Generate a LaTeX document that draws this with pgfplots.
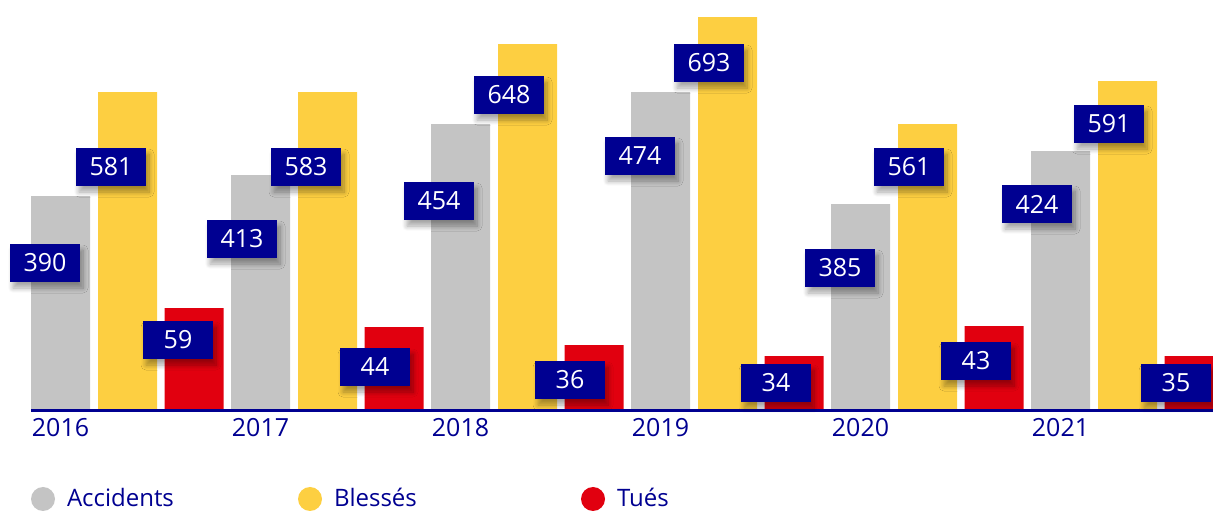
\documentclass[border=0pt]{standalone}
\usepackage{pgfplots}
\pgfplotsset{compat=1.18}
\usepackage{pgfplotstable}
\usepackage{fontspec}
\setmainfont{Open Sans}
\usetikzlibrary{shadows.blur}
\definecolor{fblue}{HTML}{000091}
\definecolor{fgrey}{HTML}{C4C4C4}
\definecolor{fyellow}{HTML}{FDCF41}
\definecolor{fred}{HTML}{E1000F}
\newcommand\lblfont{\fontsize{12.5pt}{15pt}\selectfont}
\tikzset{label box/.style={fill=fblue, text=white, font=\lblfont, minimum width=35pt,
    minimum height=19pt, inner sep=0pt,
    blur shadow={shadow xshift=1.5pt, shadow yshift=-3pt, shadow blur radius=2.5pt,
      shadow blur steps=8, shadow opacity=35}}}

% pos = bar centre (px), height = drawn bar height (px), lx/ly = label box centre
\pgfplotstableread{
pos year value height lx ly
60.5 2016 390 213 45 146
260.5 2017 413 234 242 170
460.5 2018 454 285 439 208
660.5 2019 474 317 640 253
860.5 2020 385 205 840 141
1060.5 2021 424 258 1037 205
}\accidents
\pgfplotstableread{
pos year value height lx ly
127.5 2016 581 317 111 242
327.5 2017 583 317 306 242
527.5 2018 648 365 509 314
727.5 2019 693 392 709 346
927.5 2020 561 285 909 242
1127.5 2021 591 328 1109 285
}\blesses
\pgfplotstableread{
pos year value height lx ly
194 2016 59 101 178 69
394 2017 44 82 375 42
594 2018 36 64 570 29
794 2019 34 53 776 26
994 2020 43 83 976 48
1194 2021 35 53 1176 26
}\tues

\begin{document}
\begin{tikzpicture}
\begin{axis}[
  x=0.5pt, y=0.5pt,
  xmin=0, xmax=1213, ymin=0, ymax=409,
  clip=false,
  axis x line*=bottom, axis y line=none,
  axis line style={draw=none},
  major tick length=0pt,
  xtick={60.5,260.5,460.5,660.5,860.5,1060.5},
  xticklabels={2016,2017,2018,2019,2020,2021},
  xticklabel style={text=fblue, font=\lblfont, anchor=base, yshift=-13.5pt},
  ytick=\empty,
  legend columns=3,
  legend style={at={(0.025557,-0.2200)}, anchor=west, draw=none, fill=none,
    inner sep=0pt, outer sep=0pt, font=\fontsize{12pt}{14pt}\selectfont, text=fblue,
    nodes={inner xsep=0pt},
    /tikz/every odd column/.append style={column sep=6pt}},
]
\addplot[ybar, bar width=29.5pt, bar shift=0pt, fill=fgrey, draw=none,
  legend image code/.code={\fill (6pt,0pt) circle (6pt);}]
  table[x=pos, y=height] {\accidents};
\addlegendentry{\makebox[115.5pt][l]{Accidents}}
\addplot[ybar, bar width=29.5pt, bar shift=0pt, fill=fyellow, draw=none,
  legend image code/.code={\fill (6pt,0pt) circle (6pt);}]
  table[x=pos, y=height] {\blesses};
\addlegendentry{\makebox[123.5pt][l]{Blessés}}
\addplot[ybar, bar width=29.5pt, bar shift=0pt, fill=fred, draw=none,
  legend image code/.code={\fill (6pt,0pt) circle (6pt);}]
  table[x=pos, y=height] {\tues};
\addlegendentry{Tués}

\draw[fblue, line width=1.5pt] (axis cs:31,-1.5) -- (axis cs:1213,-1.5);

\addplot[draw=none, forget plot, nodes near coords, point meta=explicit symbolic,
  nodes near coords align={center}, every node near coord/.append style={label box}]
  table[x=lx, y=ly, meta=value] {\accidents};
\addplot[draw=none, forget plot, nodes near coords, point meta=explicit symbolic,
  nodes near coords align={center}, every node near coord/.append style={label box}]
  table[x=lx, y=ly, meta=value] {\blesses};
\addplot[draw=none, forget plot, nodes near coords, point meta=explicit symbolic,
  nodes near coords align={center}, every node near coord/.append style={label box}]
  table[x=lx, y=ly, meta=value] {\tues};
\end{axis}
\pgfresetboundingbox
\path[use as bounding box] (0pt,-51pt) rectangle (606.5pt,204.5pt);
\end{tikzpicture}
\end{document}
